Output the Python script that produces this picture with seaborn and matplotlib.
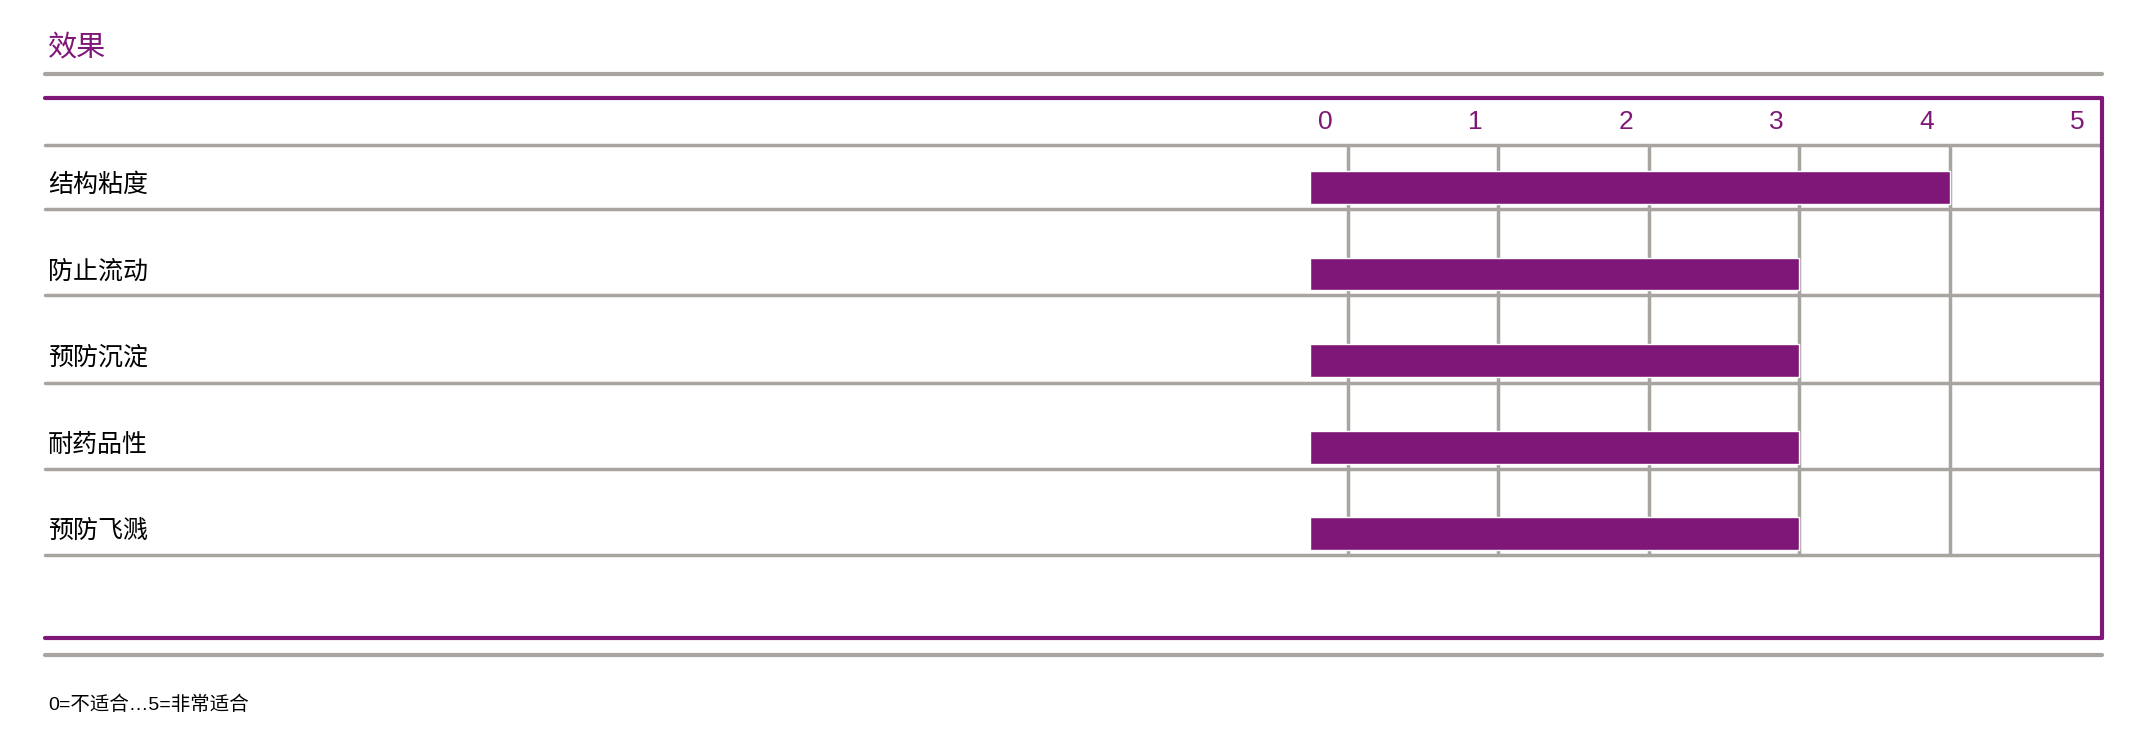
import numpy as np
import pandas as pd
import matplotlib
matplotlib.use("Agg")
import matplotlib.pyplot as plt
import seaborn as sns
from matplotlib.lines import Line2D

# data
categories = ["结构粘度", "防止流动", "预防沉淀", "耐药品性", "预防飞溅"]
scores = [4, 3, 3, 3, 3]
tick_labels = ["0", "1", "2", "3", "4", "5"]
title = "效果"
footnote = "0=不适合…5=非常适合"

PURPLE = "#7F1778"
GRAY = "#A8A4A0"
W, H = 1568.0, 538.0  # layout reference grid

sns.set_theme(style="white")
plt.rcParams['font.family'] = ['Liberation Sans', 'Noto Sans CJK SC', 'DejaVu Sans']

fig = plt.figure(figsize=(21.44, 7.36), dpi=100)

def fx(px):
    return px / W

def fy(py):
    return 1 - py / H

# bar axes
ax = fig.add_axes([fx(958), fy(406), fx(1537) - fx(958), fy(106) - fy(406)])
df = pd.DataFrame({"cat": categories, "score": np.array(scores) + 0.25})
sns.barplot(data=df, x="score", y="cat", color=PURPLE, orient="h", width=0.38,
            saturation=1, ax=ax)
for p in ax.patches:
    p.set_x(-0.25)
ax.set_xlim(-0.25, 5.01)
ax.set_ylim(4.25, -0.49)
for k in range(5):
    ax.axvline(k, color=GRAY, lw=2.5, zorder=0)
ax.set_axis_off()

# tick labels above
for i, t in enumerate(tick_labels):
    ax.text(i - 0.15, -0.75, t, color=PURPLE, fontsize=19, ha="center", va="center",
            transform=ax.transData, clip_on=False)

# row labels
for i, c in enumerate(categories):
    fig.text(fx(35), fy(135 + 63.3 * i), c, fontsize=18, va="center", ha="left", color="black")

# horizontal rules
def hline(py, color, lw):
    fig.add_artist(Line2D([fx(33), fx(1537)], [fy(py), fy(py)], color=color, lw=lw))

hline(54, GRAY, 3)
for py in [106, 153, 216, 280, 343, 406]:
    hline(py, GRAY, 2.5)
hline(72, PURPLE, 3)
hline(466, PURPLE, 3)
hline(479, GRAY, 3)
fig.add_artist(Line2D([fx(1537), fx(1537)], [fy(72), fy(466)], color=PURPLE, lw=3))

fig.text(fx(35), fy(35), title, fontsize=21, color=PURPLE, va="center", ha="left")
fig.text(fx(35), fy(515), footnote, fontsize=14, color="black", va="center", ha="left")

fig.savefig("out.png", dpi=100)
